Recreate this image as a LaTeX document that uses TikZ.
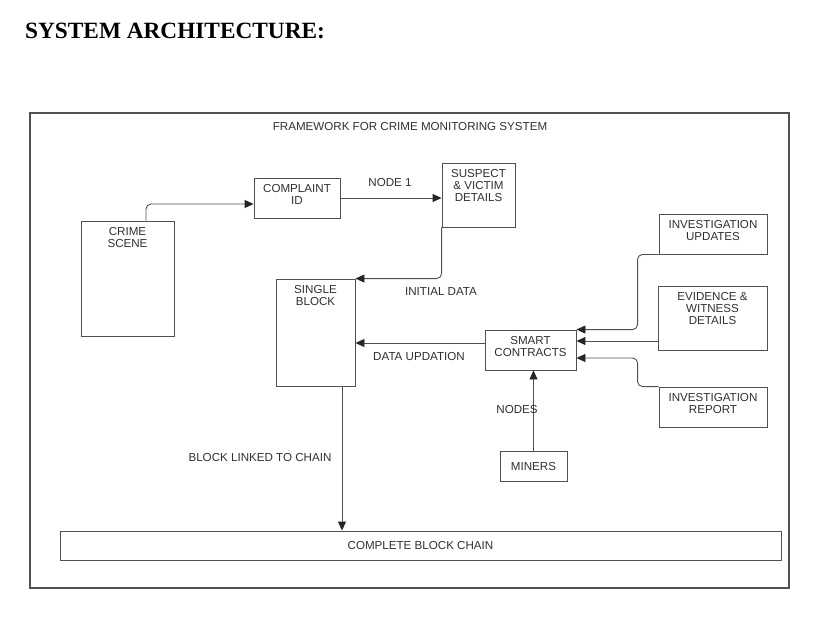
\documentclass[tikz,border=0pt]{standalone}
\usepackage{fontspec}
\usetikzlibrary{arrows.meta, positioning}
\newfontfamily\diagfont{Liberation Sans}
\newfontfamily\headfont{Liberation Serif}
\definecolor{linegray}{HTML}{505050}
\definecolor{textgray}{HTML}{303030}
\tikzset{
  box/.style = {rectangle, draw = linegray, line width = 0.9pt, inner sep = 0},
  tag/.style = {font = \diagfont\fontsize{11.6}{12}\selectfont, text = textgray,
    align = center, inner sep = 0},
  toptag/.style = {tag, anchor = north, yshift = -7},
  link/.style = {draw = linegray, line width = 0.9pt, rounded corners = 5,
    -{Triangle[length = 9pt, width = 8pt, color = black!85]}}
}

\begin{document}
\begin{tikzpicture}[x = 1pt, y = -1pt]
    \useasboundingbox (0, 0) rectangle (835, 625);
    \node [font = \headfont\bfseries\fontsize{23.3}{26}\selectfont, anchor = west,
      inner sep = 0] (title) at (25, 31) {SYSTEM ARCHITECTURE:};
    % outer frame
    \node [box, line width = 1.4pt, minimum width = 759, minimum height = 475]
      (frame) at (409.5, 350.5) {};
    \node [tag] (frame-txt) at (410, 127) {FRAMEWORK FOR CRIME MONITORING SYSTEM};
    % boxes
    \node [box, minimum width = 93, minimum height = 115] (scene) at (127.5, 278.5) {};
    \node [box, minimum width = 86, minimum height = 40] (complaint) at (297, 198) {};
    \node [box, minimum width = 73, minimum height = 64] (suspect) at (478.5, 195) {};
    \node [box, minimum width = 79, minimum height = 107] (single) at (315.5, 332.5) {};
    \node [box, minimum width = 91, minimum height = 40] (smart) at (530.5, 350) {};
    \node [box, minimum width = 108, minimum height = 40] (updates) at (713, 234) {};
    \node [box, minimum width = 109, minimum height = 64] (evidence) at (712.5, 318) {};
    \node [box, minimum width = 108, minimum height = 40] (report) at (713, 407) {};
    \node [box, minimum width = 67, minimum height = 30] (miners) at (533.5, 466) {};
    \node [box, minimum width = 721, minimum height = 29] (chain) at (420.5, 545.5) {};
    % box texts
    \node [toptag] (scene-txt) at (scene.north) {CRIME\\SCENE};
    \node [toptag] (complaint-txt) at (complaint.north) {COMPLAINT\\ID};
    \node [toptag] (suspect-txt) at (suspect.north) {SUSPECT\\\& VICTIM\\DETAILS};
    \node [toptag] (single-txt) at (single.north) {SINGLE\\BLOCK};
    \node [toptag] (smart-txt) at (smart.north) {SMART\\CONTRACTS};
    \node [toptag] (updates-txt) at (updates.north) {INVESTIGATION\\UPDATES};
    \node [toptag] (evidence-txt) at (evidence.north) {EVIDENCE \&\\WITNESS\\DETAILS};
    \node [toptag] (report-txt) at (report.north) {INVESTIGATION\\REPORT};
    \node [tag] (miners-txt) at (miners.center) {MINERS};
    \node [tag] (chain-txt) at (chain.center) {COMPLETE BLOCK CHAIN};
    % connectors
    \draw [link] ([xshift = 18.5]scene.north) |- ([yshift = -6]complaint.west);
    \draw [link] (complaint.east) -- (complaint.east -| suspect.west);
    \draw [link] (suspect.south west) |- (single.north east);
    \draw [link] ([yshift = 7]smart.west) -- ([yshift = 7]smart.west -| single.east);
    \draw [link] (updates.south west) -- ++(-21, 0) |- (smart.north east);
    \coordinate (in-ev) at ([yshift = 9]smart.east);
    \draw [link] (evidence.west |- in-ev) -- (in-ev);
    \draw [link] (report.north west) -- ++(-21, 0) |- ([yshift = -8]smart.east);
    \draw [link] (miners.north) -- (miners.north |- smart.south);
    \draw [link] ([xshift = 26.5]single.south) -- ([xshift = 26.5]single.south |- chain.north);
    % connector labels
    \node [tag] (node-one) at (390, 182) {NODE 1};
    \node [tag] (initial) at (441, 292) {INITIAL DATA};
    \node [tag] (updation) at (419, 356) {DATA UPDATION};
    \node [tag] (nodes) at (517, 409) {NODES};
    \node [tag] (linked) at (260, 457) {BLOCK LINKED TO CHAIN};
  \end{tikzpicture}
\end{document}
